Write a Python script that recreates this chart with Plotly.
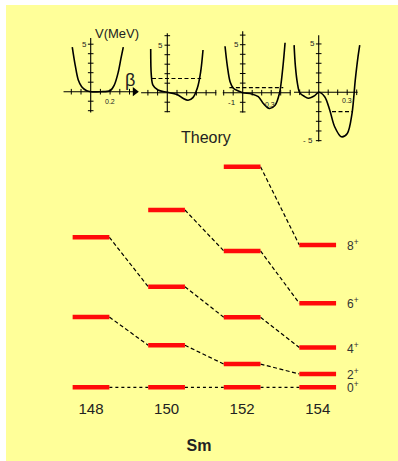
import plotly.graph_objects as go

W, H = 398, 461

# ---------------- data: level scheme (energies in keV) ----
masses = ["148", "150", "152", "154"]
spins = ["0", "2", "4", "6", "8"]
E0 = [0, 0, 0, 0]
E2 = [553, 331, 183, 105]
E4 = [1181, 792, 551, 313]
E6 = [None, 1396, 1074, 661]
E8 = [None, None, 1737, 1120]
levels = {"0": E0, "2": E2, "4": E4, "6": E6, "8": E8}

# ---------------- data: theoretical potentials V(beta) in MeV ----------------
beta1 = [-0.19, -0.16, -0.128, -0.093, -0.041, 0.0, 0.1, 0.199, 0.243, 0.285, 0.312, 0.336]
V1 = [4.7, 2.8, 1.23, 0.53, 0.1, 0.0, 0.0, 0.1, 0.7, 2.1, 3.5, 4.7]

beta2 = [-0.171, -0.165, -0.148, -0.096, 0.0, 0.11, 0.162, 0.214, 0.264, 0.309, 0.344, 0.368]
V2 = [4.6, 1.86, 0.8, 0.28, 0.04, -0.24, -0.59, -0.8, -0.52, 0.46, 2.2, 4.5]
dash2_beta = [-0.158, 0.349]
dash2_V = [1.5, 1.5]

beta3 = [-0.186, -0.162, -0.133, -0.098, -0.046, 0.0, 0.095, 0.164, 0.217, 0.28, 0.341, 0.387, 0.422, 0.446]
V3 = [4.84, 2.8, 1.15, 0.46, 0.18, 0.0, -0.14, -0.42, -1.12, -1.64, -1.3, -0.06, 2.57, 5.2]
dash3_beta = [-0.14, 0.427]
dash3_V = [0.53, 0.53]

beta4 = [-0.259, -0.245, -0.224, -0.2, -0.147, -0.105, -0.042, 0.0, 0.063, 0.116, 0.168, 0.238,
         0.301, 0.351, 0.385, 0.414, 0.432]
V4 = [4.88, 2.65, 0.93, -0.04, -0.45, -0.62, -0.35, 0.0, -0.45, -1.83, -3.56, -4.6,
      -4.25, -2.17, 1.28, 3.68, 4.88]
dash4_beta = [0.14, 0.36]
dash4_V = [-2.0, -2.0]

FONT = "Liberation Sans"
INK = "#222222"

fig = go.Figure()

# ---------------- main level diagram ----------------
half = 0.243
for s in spins:
    E = levels[s]
    xs, ys = [], []
    for i in range(len(E) - 1):
        if E[i] is not None and E[i + 1] is not None:
            xs += [i + half, i + 1 - half, None]
            ys += [E[i], E[i + 1], None]
    fig.add_trace(go.Scatter(
        x=xs, y=ys, mode="lines", hoverinfo="skip", showlegend=False,
        line=dict(color="black", width=1.2, dash="3px,3px" if s == "0" else "4px,2.5px")))

for s in spins:
    E = levels[s]
    xs, ys = [], []
    for i, e in enumerate(E):
        if e is not None:
            xs += [i - half, i + half, None]
            ys += [e, e, None]
    fig.add_trace(go.Scatter(
        x=xs, y=ys, mode="lines", hoverinfo="skip", showlegend=False,
        line=dict(color="#ff0a0a", width=4.5)))

for s in spins:
    e = levels[s][-1]
    fig.add_annotation(x=len(masses) - 1 + 0.36, y=e, xref="x", yref="y",
                       text=f"{s}<sup>+</sup>", showarrow=False, xanchor="left", yanchor="middle",
                       font=dict(family=FONT, size=12, color="#333333"))

# pixel geometry for main axes
x_c0, x_step = 91.0, 75.57
y_zero, y_scale = 387.3, 0.127
y_bot = 398.0
main_x_range = [-x_c0 / x_step, (W - x_c0) / x_step]
main_y_range = [(y_zero - y_bot) / y_scale, y_zero / y_scale]

layout = dict(
    width=W, height=H, margin=dict(l=0, r=0, t=0, b=0),
    paper_bgcolor="white", plot_bgcolor="rgba(0,0,0,0)",
    showlegend=False,
    xaxis=dict(domain=[0, 1], range=main_x_range, showgrid=False, zeroline=False,
               showline=False, ticks="", tickvals=list(range(len(masses))), ticktext=masses,
               tickfont=dict(family=FONT, size=15, color=INK),
               title=dict(text="<b>Sm</b>", font=dict(family=FONT, size=16, color=INK), standoff=23),
               fixedrange=True),
    yaxis=dict(domain=[1 - y_bot / H, 1], range=main_y_range, visible=False, fixedrange=True),
)

# ---------------- insets ----------------
panels = [
    dict(ox=90.7, oy=91.7, sx=97, sy=9.5, beta=beta1, V=V1, dash=None,
         bx=[-0.28, 0.45], vy=[-2.2, 5.65]),
    dict(ox=167.3, oy=92.7, sx=97, sy=9.5, beta=beta2, V=V2, dash=(dash2_beta, dash2_V),
         bx=[-0.27, 0.505], vy=[-2.07, 6.25]),
    dict(ox=242.7, oy=92.7, sx=95, sy=9.6, beta=beta3, V=V3, dash=(dash3_beta, dash3_V),
         bx=[-0.21, 0.505], vy=[-2.07, 6.4]),
    dict(ox=318.7, oy=92.3, sx=95, sy=9.67, beta=beta4, V=V4, dash=(dash4_beta, dash4_V),
         bx=[-0.26, 0.41], vy=[-5.1, 5.9]),
]

for k, p in enumerate(panels):
    n = k + 2
    L, R = p["ox"] - 40, p["ox"] + 52
    T, B = p["oy"] - 68, p["oy"] + 55
    layout[f"xaxis{n}"] = dict(domain=[L / W, R / W], range=[(L - p["ox"]) / p["sx"], (R - p["ox"]) / p["sx"]],
                               visible=False, anchor=f"y{n}", fixedrange=True)
    layout[f"yaxis{n}"] = dict(domain=[1 - B / H, 1 - T / H], range=[(p["oy"] - B) / p["sy"], (p["oy"] - T) / p["sy"]],
                               visible=False, anchor=f"x{n}", fixedrange=True)
    xa, ya = f"x{n}", f"y{n}"
    fig.add_trace(go.Scatter(x=[p["bx"][0], p["bx"][1], None, 0, 0], y=[0, 0, None, p["vy"][0], p["vy"][1]],
                             mode="lines", line=dict(color="black", width=1.1), xaxis=xa, yaxis=ya,
                             hoverinfo="skip"))
    vt = [v for v in range(int(p["vy"][0]), int(p["vy"][1]) + 1) if v != 0]
    fig.add_trace(go.Scatter(x=[0] * len(vt), y=vt, mode="markers", xaxis=xa, yaxis=ya, hoverinfo="skip",
                             marker=dict(symbol="line-ew", size=4, line=dict(color="black", width=1))))
    bt = [b / 10 for b in range(int(p["bx"][0] * 10), int(p["bx"][1] * 10) + 1) if b != 0]
    fig.add_trace(go.Scatter(x=bt, y=[0] * len(bt), mode="markers", xaxis=xa, yaxis=ya, hoverinfo="skip",
                             marker=dict(symbol="line-ns", size=4, line=dict(color="black", width=1))))
    if p["dash"] is not None:
        fig.add_trace(go.Scatter(x=p["dash"][0], y=p["dash"][1], mode="lines", xaxis=xa, yaxis=ya,
                                 hoverinfo="skip", line=dict(color="black", width=1.1, dash="4px,2.5px")))
    fig.add_trace(go.Scatter(x=p["beta"], y=p["V"], mode="lines", xaxis=xa, yaxis=ya, hoverinfo="skip",
                             line=dict(color="black", width=1.6, shape="spline", smoothing=0.9)))
    fig.add_annotation(x=-0.02, y=5, xref=xa, yref=ya, text="5", showarrow=False, xanchor="right",
                       font=dict(family=FONT, size=8, color=INK))

fig.add_trace(go.Scatter(x=[0.455], y=[0], mode="markers", xaxis="x2", yaxis="y2", hoverinfo="skip",
                         marker=dict(symbol="triangle-right", size=8, color="black")))
fig.add_annotation(x=0.198, y=-1.05, xref="x2", yref="y2", text="0.2", showarrow=False,
                   font=dict(family=FONT, size=7, color=INK))
fig.add_annotation(x=0.268, y=6.15, xref="x2", yref="y2", text="V(MeV)", showarrow=False,
                   font=dict(family=FONT, size=13, color=INK))
fig.add_annotation(x=0.405, y=1.25, xref="x2", yref="y2", text="β", showarrow=False,
                   font=dict(family=FONT, size=18, color=INK))
fig.add_annotation(x=-0.05, y=-1, xref="x4", yref="y4", text="-1", showarrow=False, xanchor="right",
                   font=dict(family=FONT, size=8, color=INK))
fig.add_annotation(x=0.287, y=-1.18, xref="x4", yref="y4", text="0.3", showarrow=False,
                   font=dict(family=FONT, size=7, color=INK))
fig.add_annotation(x=0.30, y=-0.87, xref="x5", yref="y5", text="0.3", showarrow=False,
                   font=dict(family=FONT, size=7, color=INK))
fig.add_annotation(x=-0.035, y=-5, xref="x5", yref="y5", text="- 5", showarrow=False, xanchor="right",
                   font=dict(family=FONT, size=8, color=INK))

fig.add_annotation(x=206 / W, y=1 - 126.7 / H, xref="paper", yref="paper", text="Theory",
                   showarrow=False, font=dict(family=FONT, size=16, color=INK))

layout["shapes"] = [dict(type="rect", xref="paper", yref="paper", x0=6 / W, x1=1, y0=0, y1=1 - 5 / H,
                         fillcolor="#ffff99", line=dict(width=0), layer="below")]
fig.update_layout(**layout)

fig.write_html("out.html", config={"displayModeBar": False},
               post_script="document.body.style.margin='0';document.body.style.overflow='hidden';")
